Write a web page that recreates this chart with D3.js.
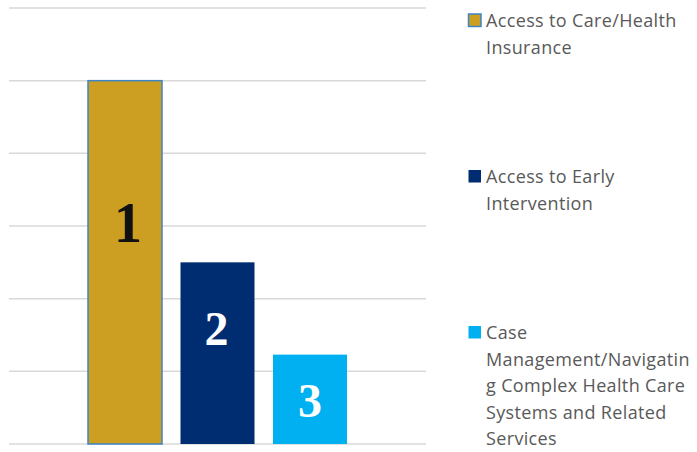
<!DOCTYPE html>
<html>
<head>
<meta charset="utf-8">
<script src="https://cdn.jsdelivr.net/npm/d3@7"></script>
<style>
  html, body { margin: 0; padding: 0; background: #fff; }
  svg { display: block; }
</style>
</head>
<body>
<svg id="chart" width="697" height="452"></svg>
<script>
// ---- data ----
const seriesNames = [
  "Access to Care/Health Insurance",
  "Access to Early Intervention",
  "Case Management/Navigating Complex Health Care Systems and Related Services"
];
const seriesValues = [5, 2.5, 1.23];
const rankLabels = ["1", "2", "3"];
const yTicks = [0, 1, 2, 3, 4, 5, 6];
const legendLines = [
  ["Access to Care/Health", "Insurance"],
  ["Access to Early", "Intervention"],
  ["Case", "Management/Navigatin", "g Complex Health Care", "Systems and Related", "Services"]
];

// ---- styles ----
const colors = ["#CC9E22", "#002D72", "#00B0F0"];
const labelColors = ["#111111", "#ffffff", "#ffffff"];

const svg = d3.select("#chart");
const plot = { left: 9, right: 426, top: 8, bottom: 444 };

const y = d3.scaleLinear().domain([0, 6]).range([plot.bottom, plot.top]);
const x = d3.scaleBand()
  .domain(seriesNames)
  .range([plot.left, plot.right])
  .paddingInner(0.2)
  .paddingOuter(0.854);

// gridlines
svg.append("g").selectAll("line")
  .data(yTicks)
  .join("line")
  .attr("x1", plot.left)
  .attr("x2", plot.right)
  .attr("y1", d => y(d))
  .attr("y2", d => y(d))
  .attr("stroke", "#d9d9d9")
  .attr("stroke-width", 1.5);

// bars
svg.append("g").selectAll("rect")
  .data(seriesNames)
  .join("rect")
  .attr("x", d => x(d))
  .attr("width", x.bandwidth())
  .attr("y", (d, i) => y(seriesValues[i]))
  .attr("height", (d, i) => y(0) - y(seriesValues[i]))
  .attr("fill", (d, i) => colors[i])
  .attr("stroke", (d, i) => i === 0 ? "#3C85C6" : "none")
  .attr("stroke-width", 1.5);

// rank labels inside bars (baseline as a fraction of bar height)
const labelFrac = [0.556, 0.545, 0.30];
const labelSize = [56, 48, 48];
const labelDx = [3, -1, 0];
svg.append("g").selectAll("text")
  .data(seriesNames)
  .join("text")
  .attr("x", (d, i) => x(d) + x.bandwidth() / 2 + labelDx[i])
  .attr("y", (d, i) => y(seriesValues[i] * labelFrac[i]))
  .attr("text-anchor", "middle")
  .attr("font-family", "'Liberation Serif', 'DejaVu Serif', serif")
  .attr("font-weight", "bold")
  .attr("font-size", (d, i) => labelSize[i])
  .attr("fill", (d, i) => labelColors[i])
  .text((d, i) => rankLabels[i]);

// legend
const legendTop = [27, 183, 339];
const lineH = 26.5;
const lg = svg.append("g");
seriesNames.forEach((name, i) => {
  const g = lg.append("g");
  g.append("rect")
    .attr("x", 468.5)
    .attr("y", legendTop[i] - 13)
    .attr("width", 12.5)
    .attr("height", 12.5)
    .attr("fill", colors[i])
    .attr("stroke", i === 0 ? "#3C85C6" : "none")
    .attr("stroke-width", 1.5);
  g.append("text")
    .attr("font-family", "'Open Sans', 'Noto Sans', sans-serif")
    .attr("font-size", 18)
    .attr("letter-spacing", 0.35)
    .attr("fill", "#595959")
    .selectAll("tspan")
    .data(legendLines[i])
    .join("tspan")
    .attr("x", 486)
    .attr("y", (d, j) => legendTop[i] + j * lineH)
    .text(d => d);
});
</script>
</body>
</html>
